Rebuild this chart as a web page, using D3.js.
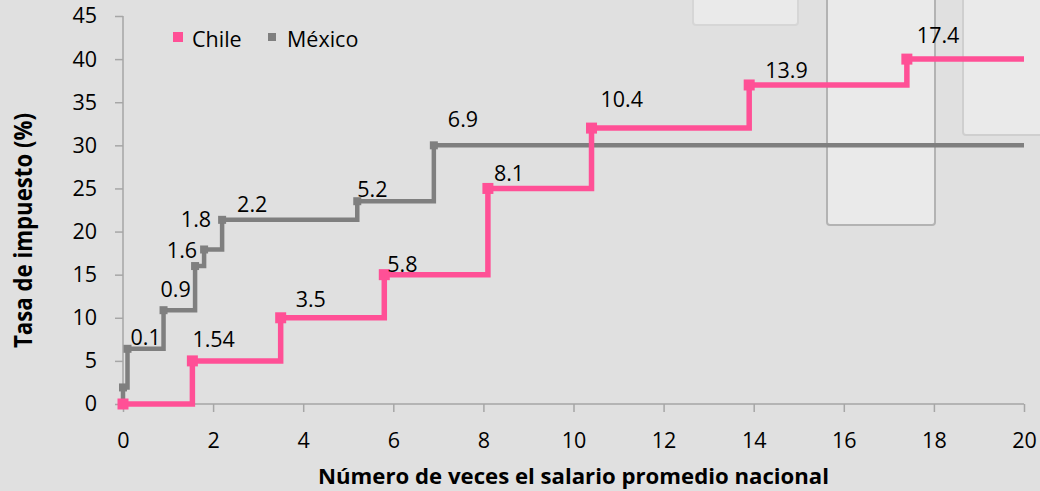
<!DOCTYPE html>
<html>
<head>
<meta charset="utf-8">
<script src="https://cdn.jsdelivr.net/npm/d3@7"></script>
<style>
  html, body { margin: 0; padding: 0; background: #e0e0e0; }
  svg { display: block; font-family: "Open Sans", Lato, sans-serif; }
</style>
</head>
<body>
<svg id="chart" width="1040" height="491"></svg>
<script>
// ---- data ----
const seriesNames = ["Chile", "México"];
const chileX = [0, 1.54, 3.5, 5.8, 8.1, 10.4, 13.9, 17.4, 20];
const chileY = [0, 5, 10, 15, 25, 32, 37, 40, 40];
const chileLabels = ["", "1.54", "3.5", "5.8", "8.1", "10.4", "13.9", "17.4", ""];
const mexicoX = [0, 0, 0.1, 0.9, 1.6, 1.8, 2.2, 5.2, 6.9, 20];
const mexicoY = [0, 1.92, 6.4, 10.88, 16, 17.92, 21.36, 23.52, 30, 30];
const mexicoLabels = ["", "", "0.1", "0.9", "1.6", "1.8", "2.2", "5.2", "6.9", ""];
const xTicks = [0, 2, 4, 6, 8, 10, 12, 14, 16, 18, 20];
const yTicks = [0, 5, 10, 15, 20, 25, 30, 35, 40, 45];
const xTitle = "Número de veces el salario promedio nacional";
const yTitle = "Tasa de impuesto (%)";

// label placement offsets (dx, dy, anchor) from each point, in pixels
const chileLabelOffsets = [null, [0, -14, "start"], [15, -11, "start"], [3, -3, "start"], [6, -7, "start"], [9, -21, "start"], [16, -7, "start"], [10, -16, "start"], null];
const mexicoLabelOffsets = [null, null, [3, -4, "start"], [-3, -13, "start"], [2, -8, "end"], [7, -22, "end"], [15, -8, "start"], [0, -4, "start"], [14, -18, "start"], null];

// ---- layout ----
const svg = d3.select("#chart");
const W = 1040, H = 491;
const pLeft = 123, pRight = 1024, pTop = 16, pBottom = 404;
const FS = 21.5;
const x = d3.scaleLinear().domain([0, 20]).range([pLeft, pRight]);
const y = d3.scaleLinear().domain([0, 45]).range([pBottom, pTop]);

svg.append("rect").attr("width", W).attr("height", H).attr("fill", "#e0e0e0");

// decorative background panels (from the original slide)
const deco = svg.append("g");
const panels = [
  {x: 693, y: -10, w: 105, h: 35, stroke: "#d6d6d6"},
  {x: 827, y: -10, w: 108, h: 235, stroke: "#b3b3b3"},
  {x: 963, y: -10, w: 90, h: 145, stroke: "#cfcfcf"}
];
deco.selectAll("rect").data(panels).join("rect")
  .attr("x", d => d.x).attr("y", d => d.y).attr("width", d => d.w).attr("height", d => d.h)
  .attr("rx", 3).attr("fill", "#eaeaea").attr("stroke", d => d.stroke).attr("stroke-width", 2);

// axes
const axisColor = "#a6a6a6";
const yAxis = svg.append("g").attr("transform", `translate(${pLeft},0)`)
  .call(d3.axisLeft(y).tickValues(yTicks).tickSize(8).tickPadding(18).tickFormat(d3.format("d")));
const xAxis = svg.append("g").attr("transform", `translate(0,${pBottom})`)
  .call(d3.axisBottom(x).tickValues(xTicks).tickSize(8).tickPadding(21).tickFormat(d3.format("d")));
[yAxis, xAxis].forEach(g => {
  g.select(".domain").attr("stroke", axisColor).attr("stroke-width", 1.5);
  g.selectAll(".tick line").attr("stroke", axisColor).attr("stroke-width", 1.5);
  g.selectAll(".tick text").attr("fill", "#000").attr("font-size", FS).attr("font-family", "'Open Sans', Lato, sans-serif");
});
yAxis.select(".domain").attr("d", `M0,${pBottom}V${pTop}`);
xAxis.select(".domain").attr("d", `M${pLeft},0H${pRight}`);

// titles
svg.append("text").attr("x", 318).attr("y", 484)
  .attr("font-size", 21).attr("font-weight", "bold")
  .attr("textLength", 511).attr("lengthAdjust", "spacingAndGlyphs").text(xTitle);
svg.append("text").attr("transform", "translate(32,348) rotate(-90)")
  .attr("font-size", 25).attr("font-weight", "bold")
  .attr("textLength", 235).attr("lengthAdjust", "spacingAndGlyphs").text(yTitle);

// series
const series = [
  {name: seriesNames[1], xs: mexicoX, ys: mexicoY, labels: mexicoLabels, offs: mexicoLabelOffsets, color: "#7f7f7f", width: 4.5, marker: 8},
  {name: seriesNames[0], xs: chileX, ys: chileY, labels: chileLabels, offs: chileLabelOffsets, color: "#ff5096", width: 5.5, marker: 11}
];
const line = d3.line().x(d => x(d[0])).y(d => y(d[1])).curve(d3.curveStepAfter);

series.forEach(s => {
  const pts = s.xs.map((v, i) => [v, s.ys[i]]);
  svg.append("path").datum(pts).attr("d", line).attr("fill", "none")
    .attr("stroke", s.color).attr("stroke-width", s.width);
  const mk = pts.slice(0, pts.length - 1);
  svg.append("g").selectAll("rect").data(mk).join("rect")
    .attr("x", d => x(d[0]) - s.marker / 2).attr("y", d => y(d[1]) - s.marker / 2)
    .attr("width", s.marker).attr("height", s.marker).attr("fill", s.color);
});
series.forEach(s => {
  svg.append("g").selectAll("text").data(s.xs.map((v, i) => i).filter(i => s.labels[i]))
    .join("text")
    .attr("x", i => x(s.xs[i]) + s.offs[i][0]).attr("y", i => y(s.ys[i]) + s.offs[i][1])
    .attr("text-anchor", i => s.offs[i][2])
    .attr("font-size", FS).attr("fill", "#000").text(i => s.labels[i]);
});

// legend
const legend = svg.append("g");
const legItems = [
  {name: seriesNames[0], color: "#ff5096", size: 10, x: 173, tx: 192},
  {name: seriesNames[1], color: "#7f7f7f", size: 8, x: 268, tx: 287}
];
legItems.forEach(d => {
  legend.append("rect").attr("x", d.x).attr("y", 37 - d.size / 2).attr("width", d.size).attr("height", d.size).attr("fill", d.color);
  legend.append("text").attr("x", d.tx).attr("y", 47).attr("font-size", FS).attr("fill", "#000").text(d.name);
});
</script>
</body>
</html>
